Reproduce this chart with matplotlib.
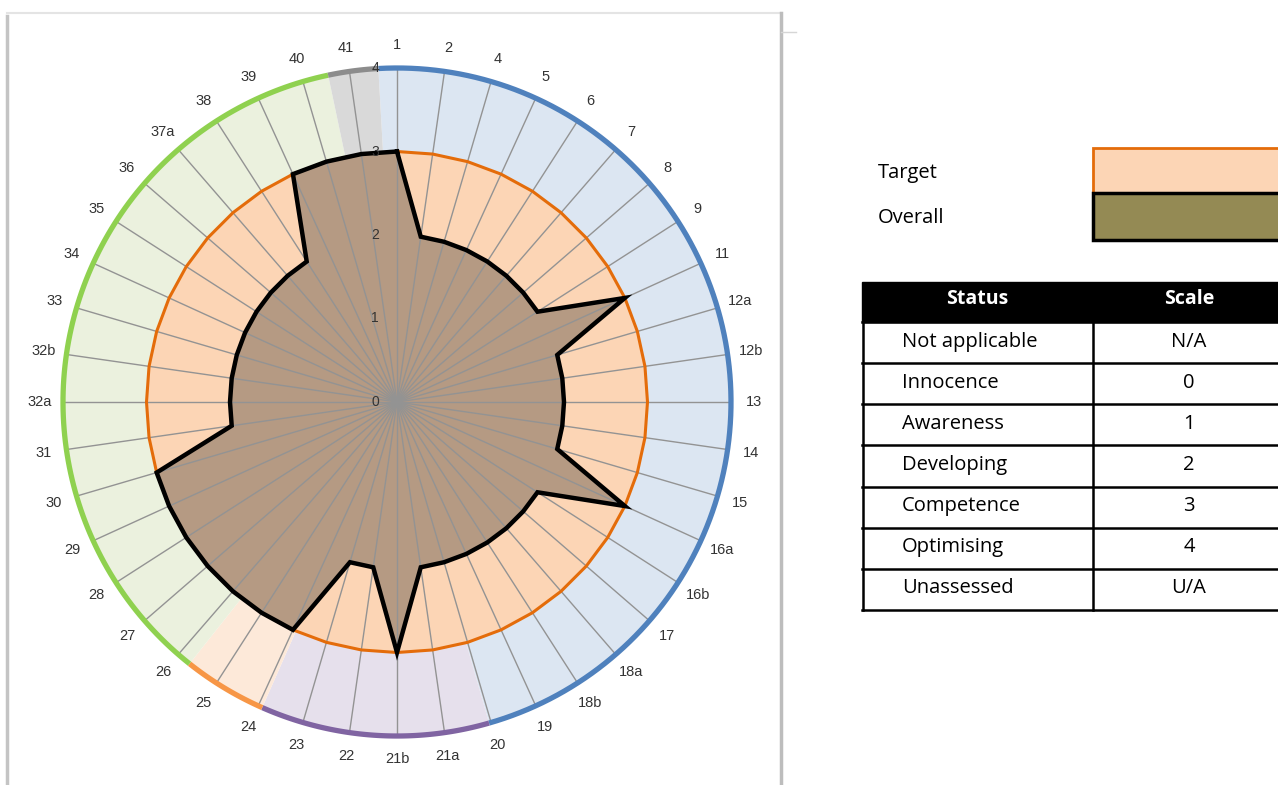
import numpy as np
import matplotlib
matplotlib.use("Agg")
import matplotlib.pyplot as plt
from matplotlib.patches import Rectangle
from matplotlib.transforms import ScaledTranslation

# ---- data ----
categories = ["1", "2", "4", "5", "6", "7", "8", "9", "11", "12a", "12b", "13",
              "14", "15", "16a", "16b", "17", "18a", "18b", "19", "20", "21a",
              "21b", "22", "23", "24", "25", "26", "27", "28", "29", "30", "31",
              "32a", "32b", "33", "34", "35", "36", "37a", "38", "39", "40", "41"]
target = [3, 3, 3, 3, 3, 3, 3, 3, 3, 3, 3, 3, 3, 3, 3, 3, 3, 3, 3, 3, 3, 3,
          3, 3, 3, 3, 3, 3, 3, 3, 3, 3, 3, 3, 3, 3, 3, 3, 3, 3, 3, 3, 3, 3]
overall = [3, 2, 2, 2, 2, 2, 2, 2, 3, 2, 2, 2, 2, 2, 3, 2, 2, 2, 2, 2, 2, 2,
           3, 2, 2, 3, 3, 3, 3, 3, 3, 3, 2, 2, 2, 2, 2, 2, 2, 2, 2, 3, 3, 3]
radial_ticks = [0, 1, 2, 3, 4]

# coloured background sectors (start/end angle in degrees, clockwise from top)
group_start = [-3.2, 164.0, 203.8, 218.4, 348.1]
group_end = [164.0, 203.8, 218.4, 348.1, 356.8]
group_ring = ["#4F81BD", "#8064A2", "#F79646", "#8FD14F", "#8C8C8C"]
group_fill = ["#DCE6F2", "#E6E0EC", "#FDE9D9", "#EBF1DE", "#D9D9D9"]

status = ["Not applicable", "Innocence", "Awareness", "Developing",
          "Competence", "Optimising", "Unassessed"]
scale = ["N/A", "0", "1", "2", "3", "4", "U/A"]
legend_names = ["Target", "Overall"]

W, H = 1278, 785
fig = plt.figure(figsize=(W / 100, H / 100), dpi=100)

# overlay in pixel coordinates for the frame, legend and table
ov = fig.add_axes([0, 0, 1, 1], zorder=0)
ov.set_xlim(0, W)
ov.set_ylim(H, 0)
ov.set_axis_off()

# chart frame (soft grey edges)
ov.plot([7, 7], [16, 785], color="#C4C4C4", lw=2.5)
ov.plot([7, 781], [13, 13], color="#E4E4E4", lw=1.5)
ov.plot([781, 781], [13, 785], color="#BDBDBD", lw=2.5)
ov.plot([781, 796], [32, 32], color="#D6D6D6", lw=1)

# ---- radar ----
cx, cy, R = 397, 402, 334
ax = fig.add_axes([(cx - R) / W, 1 - (cy + R) / H, 2 * R / W, 2 * R / H],
                  projection="polar", zorder=1)
ax.set_theta_zero_location("N")
ax.set_theta_direction(-1)
ax.set_ylim(0, 4)
ax.set_axis_off()

n = len(categories)
ang = np.deg2rad(np.arange(n) * 360.0 / n)
ang_c = np.append(ang, ang[0])

for s, e, rc, fc in zip(group_start, group_end, group_ring, group_fill):
    a0, a1 = np.deg2rad(s), np.deg2rad(e)
    ax.bar((a0 + a1) / 2, 4, width=a1 - a0, bottom=0, color=fc,
           edgecolor="none", zorder=1)
    th = np.linspace(a0, a1, 120)
    ax.plot(th, np.full_like(th, 4.0), color=rc, lw=3.8,
            solid_capstyle="butt", clip_on=False, zorder=7)

ax.fill(ang_c, np.append(target, target[0]), color="#FCD5B5", zorder=2)
ax.fill(ang_c, np.append(overall, overall[0]), color="#B59A83", zorder=3)

for a in ang:
    ax.plot([a, a], [0, 4], color="#939393", lw=1.0, zorder=4)

ax.plot(ang_c, np.append(target, target[0]), color="#E46C0A", lw=2.2, zorder=5)
ax.plot(ang_c, np.append(overall, overall[0]), color="black", lw=3.2,
        solid_joinstyle="miter", zorder=6)

for a, lab in zip(ang, categories):
    ax.text(a, 4.28, lab, ha="center", va="center", fontsize=10.5,
            family="Liberation Sans", color="#333333", zorder=8)

shift = ax.transData + ScaledTranslation(-0.22, 0, fig.dpi_scale_trans)
for v in radial_ticks:
    ax.text(0, v, str(v), transform=shift, ha="center", va="center",
            fontsize=10, family="Liberation Sans", color="#333333", zorder=8)

# ---- legend boxes ----
tf = dict(family="Open Sans", fontsize=14.5, color="black")
ov.add_patch(Rectangle((1093, 148), 200, 45, fc="#FCD5B5", ec="#E46C0A", lw=2))
ov.add_patch(Rectangle((1093, 193), 200, 47, fc="#948A54", ec="black", lw=2.5))
ov.text(878, 173, legend_names[0], va="center", **tf)
ov.text(878, 218, legend_names[1], va="center", **tf)

# ---- status table ----
x0, xm, x1 = 862, 1093, 1290
ov.add_patch(Rectangle((x0, 282), x1 - x0, 40, fc="black", ec="black", lw=1))
ov.text((x0 + xm) / 2, 299, "Status", ha="center", va="center",
        color="white", fontweight="bold", family="Open Sans", fontsize=14)
ov.text(1189, 299, "Scale", ha="center", va="center",
        color="white", fontweight="bold", family="Open Sans", fontsize=14)

edges = np.linspace(322, 610, len(status) + 1)
for y in edges:
    ov.plot([x0, x1], [y, y], color="black", lw=1.8)
ov.plot([x0 + 1, x0 + 1], [322, 610], color="black", lw=1.8)
ov.plot([xm, xm], [322, 610], color="black", lw=1.8)
for i, (st, sc) in enumerate(zip(status, scale)):
    ymid = (edges[i] + edges[i + 1]) / 2 - 1
    ov.text(902, ymid, st, va="center", **tf)
    ov.text(1189, ymid, sc, ha="center", va="center", **tf)

fig.savefig("out.png", dpi=100)
